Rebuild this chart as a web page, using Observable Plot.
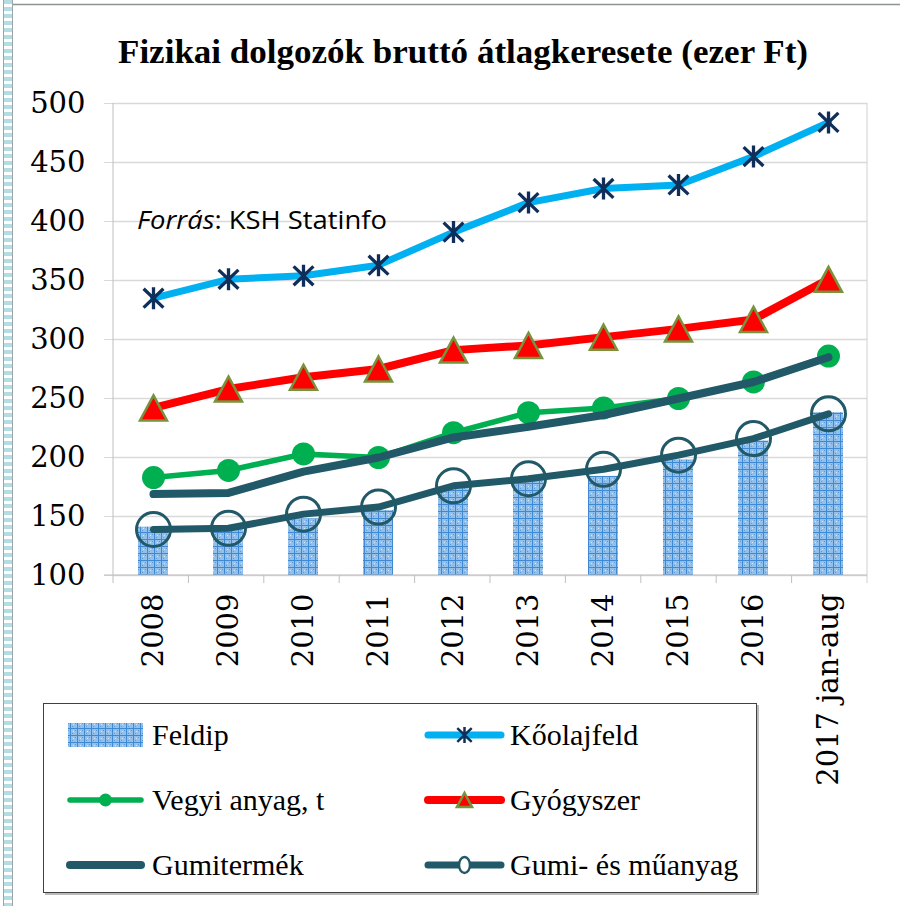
<!DOCTYPE html>
<html><head><meta charset="utf-8">
<script src="https://cdn.jsdelivr.net/npm/d3@7"></script>
<script src="https://cdn.jsdelivr.net/npm/@observablehq/plot@0.6"></script>
<style>body{margin:0;background:#fff}#c{position:relative;width:900px;height:906px}</style>
</head><body><div id="c"></div>
<script>
const categories = ["2008","2009","2010","2011","2012","2013","2014","2015","2016","2017 jan-aug"];
const feldip      = [141, 139, 148, 155, 175, 182, 184, 198, 214, 238];
const koolajfeld  = [335, 351, 354, 363, 391, 416, 428, 431, 455, 484];
const gyogyszer   = [242, 258, 268, 275, 291, 295, 302, 309, 317, 351];
const vegyi       = [183, 189, 203, 200, 221, 238, 242, 250, 264, 286];
const gumitermek  = [169, 170, 188, 200, 217, 226, 236, 250, 264, 285];
const gumiMuanyag = [139, 140, 152, 158, 176, 182, 190, 202, 216, 237];
const yTicks = [100,150,200,250,300,350,400,450,500];
const title = "Fizikai dolgozók bruttó átlagkeresete (ezer Ft)";
const source = ["Forrás", ": KSH Statinfo"];
const seriesNames = ["Feldip","Kőolajfeld","Vegyi anyag, t","Gyógyszer","Gumitermék","Gumi- és műanyag"];

const rows = vals => categories.map((c,i)=>({cat:c, value:vals[i]}));
const teal = "#215968";
const navy = "#0f2f5a";

// Excel-like star: vertical bar + X
const starSymbol = {draw(ctx, size){ const r = Math.sqrt(size/Math.PI);
  ctx.moveTo(0,-r); ctx.lineTo(0,r);
  ctx.moveTo(-0.9*r,-0.86*r); ctx.lineTo(0.9*r,0.86*r);
  ctx.moveTo(-0.9*r,0.86*r); ctx.lineTo(0.9*r,-0.86*r); }};
// Excel-like triangle centred on its bounding box
const triSymbol = {draw(ctx, size){ const r = Math.sqrt(size/Math.PI);
  ctx.moveTo(0,-r); ctx.lineTo(1.08*r, r); ctx.lineTo(-1.08*r, r); ctx.closePath(); }};

const chart = Plot.plot({
  width: 900, height: 906,
  marginLeft: 113, marginRight: 33, marginTop: 103, marginBottom: 331,
  x: {domain: categories, paddingInner: 0.6, paddingOuter: 0.3, align: 0.5},
  y: {domain: [100, 500]},
  style: {background: "white", overflow: "visible"},
  marks: [
    Plot.gridY(yTicks, {stroke: "#d9d9d9", strokeOpacity: 1, strokeWidth: 1.5}),
    Plot.axisY(yTicks, {tickSize: 9, stroke: "#d9d9d9", strokeOpacity: 1, tickPadding: 19, fontSize: 29, fontFamily: "DejaVu Serif", fill: "#000", label: null}),
    Plot.axisX({tickSize: 0, tickRotate: -90, tickPadding: 18, fontSize: 29, fontFamily: "DejaVu Serif", fill: "#000", label: null}),
    Plot.barY(rows(feldip), {x: "cat", y1: 100, y2: "value", fill: "url(#feldipPat)"}),
    Plot.line(rows(koolajfeld), {x: "cat", y: "value", stroke: "#00b0f0", strokeWidth: 7}),
    Plot.dot(rows(koolajfeld), {x: "cat", y: "value", symbol: starSymbol, r: 11, stroke: navy, strokeWidth: 3.3, strokeLinecap: "butt"}),
    Plot.line(rows(gyogyszer), {x: "cat", y: "value", stroke: "#ff0000", strokeWidth: 8}),
    Plot.dot(rows(gyogyszer), {x: "cat", y: "value", symbol: triSymbol, r: 12.5, fill: "#ff0000", stroke: "#77933c", strokeWidth: 2.5}),
    Plot.line(rows(vegyi), {x: "cat", y: "value", stroke: "#00b050", strokeWidth: 5.5}),
    Plot.dot(rows(vegyi), {x: "cat", y: "value", r: 11.5, fill: "#00b050"}),
    Plot.line(rows(gumitermek), {x: "cat", y: "value", stroke: teal, strokeWidth: 8}),
    Plot.line(rows(gumiMuanyag), {x: "cat", y: "value", stroke: teal, strokeWidth: 7}),
    Plot.dot(rows(gumiMuanyag), {x: "cat", y: "value", r: 17, fill: "none", stroke: teal, strokeWidth: 3})
  ]
});
document.getElementById("c").appendChild(chart);

const svg = d3.select(chart);
const defs = svg.insert("defs", ":first-child");
const pat = defs.append("pattern").attr("id","feldipPat").attr("patternUnits","userSpaceOnUse").attr("width",7).attr("height",7);
pat.append("rect").attr("width",7).attr("height",7).attr("fill","#92c0ea");
pat.append("rect").attr("x",3).attr("y",3).attr("width",1).attr("height",1).attr("fill","#d6e8f7");
pat.append("rect").attr("x",5).attr("y",2).attr("width",1).attr("height",1).attr("fill","#5a9bd8");
pat.append("rect").attr("x",2).attr("y",5).attr("width",1).attr("height",1).attr("fill","#5a9bd8");
pat.append("path").attr("d","M0,0.5H7M0.5,0V7").attr("stroke","#3f88d2").attr("stroke-width",1);
const stripe = defs.append("pattern").attr("id","stripePat").attr("patternUnits","userSpaceOnUse").attr("width",10).attr("height",7);
stripe.append("rect").attr("width",10).attr("height",7).attr("fill","#fff");
stripe.append("rect").attr("width",10).attr("height",4).attr("fill","#b4dde3");

// frame & ticks
const xs = chart.scale("x");
const [r0, r1] = xs.range;
const step = (r1 - r0) / categories.length;
const y0 = 575, yTop = 103;
const g = svg.append("g");
g.append("line").attr("x1",r0).attr("x2",r0).attr("y1",yTop).attr("y2",y0+8).attr("stroke","#bfbfbf");
g.append("line").attr("x1",r1).attr("x2",r1).attr("y1",yTop).attr("y2",y0+8).attr("stroke","#d0d0d0");
g.append("line").attr("x1",r0-9).attr("x2",r1).attr("y1",y0).attr("y2",y0).attr("stroke","#bfbfbf");
for (let i=1;i<categories.length;i++){
  const x = r0 + i*step;
  g.append("line").attr("x1",x).attr("x2",x).attr("y1",y0).attr("y2",y0+8).attr("stroke","#bfbfbf");
}
// page border
svg.append("rect").attr("x",3).attr("y",0).attr("width",10).attr("height",906).attr("fill","url(#stripePat)");
svg.append("line").attr("x1",3.5).attr("x2",3.5).attr("y1",0).attr("y2",906).attr("stroke","#9aa6a8");
svg.append("line").attr("x1",12.5).attr("x2",12.5).attr("y1",0).attr("y2",906).attr("stroke","#9aa6a8");
svg.append("line").attr("x1",13).attr("x2",900).attr("y1",4.5).attr("y2",4.5).attr("stroke","#8c9495").attr("stroke-width",1.5);

// title
svg.append("text").attr("x",118).attr("y",63).attr("text-anchor","start").attr("font-family","'Liberation Serif', serif").attr("font-weight","bold")
  .attr("font-size",33).attr("textLength",690).attr("lengthAdjust","spacingAndGlyphs").attr("fill","#000").text(title);
// source
const st = svg.append("text").attr("x",137).attr("y",229).attr("text-anchor","start").attr("font-family","'Open Sans', Lato, sans-serif")
  .attr("font-size",25.5).attr("textLength",250).attr("lengthAdjust","spacingAndGlyphs").attr("fill","#000");
st.append("tspan").attr("font-style","italic").text(source[0]);
st.append("tspan").text(source[1]);

// legend
const lg = svg.append("g").attr("font-family","'Liberation Serif', serif").attr("font-size",30).attr("fill","#000").attr("text-anchor","start");
lg.append("rect").attr("x",45).attr("y",705).attr("width",714).attr("height",190).attr("fill","#bbb");
lg.append("rect").attr("x",43.5).attr("y",703.5).attr("width",713).attr("height",189).attr("fill","#fff").attr("stroke","#404040");
const rowY = [735, 800, 865];
const colSw = [[66,145],[424,505]];
const colTx = [152, 510];
const items = [
  {name: seriesNames[0], col:0, row:0, type:"bar"},
  {name: seriesNames[1], col:1, row:0, color:"#00b0f0", w:7, sym:"asterisk"},
  {name: seriesNames[2], col:0, row:1, color:"#00b050", w:5.5, sym:"dot"},
  {name: seriesNames[3], col:1, row:1, color:"#ff0000", w:8, sym:"triangle"},
  {name: seriesNames[4], col:0, row:2, color:teal, w:8},
  {name: seriesNames[5], col:1, row:2, color:teal, w:7, sym:"ring"}
];
for (const it of items){
  const [a,b] = colSw[it.col]; const y = rowY[it.row]; const cx = (a+b)/2;
  if (it.type === "bar"){
    lg.append("rect").attr("x",a+2).attr("y",y-12).attr("width",b-a-4).attr("height",24).attr("fill","url(#feldipPat)");
  } else {
    lg.append("line").attr("x1",a+4).attr("x2",b-4).attr("y1",y).attr("y2",y).attr("stroke",it.color).attr("stroke-width",it.w).attr("stroke-linecap","round");
    if (it.sym === "asterisk") lg.append("path").attr("transform",`translate(${cx},${y})`).attr("d",d3.symbol(starSymbol, Math.PI*64)()).attr("stroke",navy).attr("stroke-width",2.5).attr("fill","none");
    if (it.sym === "dot") lg.append("circle").attr("cx",cx).attr("cy",y).attr("r",6.5).attr("fill","#00b050");
    if (it.sym === "triangle") lg.append("path").attr("transform",`translate(${cx},${y})`).attr("d",d3.symbol(triSymbol, Math.PI*49)()).attr("fill","#ff0000").attr("stroke","#77933c").attr("stroke-width",2.5);
    if (it.sym === "ring") lg.append("ellipse").attr("cx",cx).attr("cy",y).attr("rx",5.5).attr("ry",8).attr("fill","#fff").attr("stroke",teal).attr("stroke-width",2.5);
  }
  lg.append("text").attr("x",colTx[it.col]).attr("y",y+10).text(it.name);
}
</script></body></html>
